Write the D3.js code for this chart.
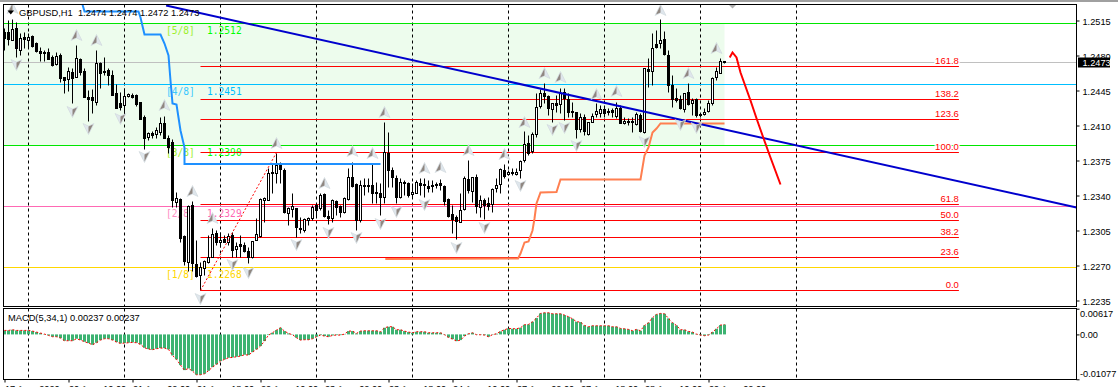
<!DOCTYPE html>
<html><head><meta charset="utf-8">
<script src="https://cdn.jsdelivr.net/npm/d3@7"></script>
<style>
html,body{margin:0;padding:0;background:#fff;overflow:hidden}
svg{display:block}
text{font-family:"Liberation Sans",Arial,sans-serif}
</style></head><body>
<div id="chart"></div>
<script>
const highs=[1.2507,1.2515,1.2516,1.2513,1.2502,1.2503,1.2502,1.2500,1.2493,1.2488,
1.2485,1.2487,1.2480,1.2483,1.2482,1.2458,1.2468,1.2467,1.2490,1.2477,
1.2467,1.2445,1.2446,1.2485,1.2473,1.2478,1.2467,1.2465,1.2451,1.2443,
1.2447,1.2442,1.2442,1.2441,1.2433,1.2420,1.2403,1.2404,1.2408,1.2418,
1.2419,1.2400,1.2396,1.2343,1.2337,1.2300,1.2330,1.2334,1.2295,1.2273,
1.2275,1.2300,1.2307,1.2305,1.2303,1.2300,1.2302,1.2303,1.2293,1.2300,
1.2293,1.2288,1.2294,1.2317,1.2337,1.2338,1.2367,1.2372,1.2382,1.2373,
1.2367,1.2328,1.2342,1.2327,1.2318,1.2317,1.2318,1.2330,1.2332,1.2342,
1.2342,1.2325,1.2336,1.2335,1.2330,1.2338,1.2367,1.2373,1.2352,1.2355,
1.2357,1.2357,1.2372,1.2353,1.2352,1.2413,1.2403,1.2368,1.2360,1.2357,
1.2355,1.2353,1.2352,1.2355,1.2357,1.2357,1.2355,1.2355,1.2353,1.2356,
1.2350,1.2337,1.2330,1.2320,1.2342,1.2359,1.2375,1.2358,1.2361,1.2340,
1.2337,1.2338,1.2347,1.2357,1.2367,1.2371,1.2365,1.2367,1.2367,1.2375,
1.2404,1.2400,1.2403,1.2442,1.2446,1.2452,1.2440,1.2432,1.2440,1.2447,
1.2447,1.2442,1.2433,1.2423,1.2422,1.2421,1.2413,1.2422,1.2432,1.2430,
1.2430,1.2427,1.2427,1.2433,1.2430,1.2418,1.2417,1.2418,1.2423,1.2422,
1.2467,1.2477,1.2502,1.2505,1.2516,1.2504,1.2485,1.2460,1.2447,1.2440,
1.2442,1.2452,1.2437,1.2437,1.2422,1.2427,1.2435,1.2458,1.2468,1.2477,
1.2474];
const lows=[1.2485,1.2490,1.2495,1.2478,1.2480,1.2487,1.2487,1.2488,1.2483,1.2474,
1.2474,1.2476,1.2469,1.2470,1.2453,1.2442,1.2444,1.2432,1.2458,1.2460,
1.2438,1.2414,1.2422,1.2430,1.2447,1.2460,1.2450,1.2440,1.2427,1.2425,
1.2422,1.2438,1.2437,1.2429,1.2416,1.2386,1.2395,1.2397,1.2397,1.2400,
1.2397,1.2382,1.2328,1.2328,1.2293,1.2270,1.2264,1.2264,1.2258,1.2245,
1.2260,1.2272,1.2278,1.2290,1.2288,1.2293,1.2290,1.2278,1.2278,1.2278,
1.2283,1.2272,1.2277,1.2295,1.2298,1.2313,1.2335,1.2342,1.2352,1.2352,
1.2322,1.2310,1.2318,1.2298,1.2302,1.2303,1.2310,1.2315,1.2317,1.2325,
1.2318,1.2311,1.2313,1.2320,1.2318,1.2322,1.2335,1.2348,1.2305,1.2313,
1.2340,1.2343,1.2332,1.2332,1.2320,1.2332,1.2348,1.2348,1.2332,1.2337,
1.2340,1.2338,1.2337,1.2342,1.2340,1.2338,1.2343,1.2343,1.2347,1.2345,
1.2330,1.2318,1.2302,1.2296,1.2313,1.2325,1.2342,1.2333,1.2322,1.2318,
1.2316,1.2325,1.2323,1.2343,1.2342,1.2357,1.2360,1.2360,1.2360,1.2357,
1.2373,1.2380,1.2382,1.2398,1.2427,1.2432,1.2420,1.2413,1.2423,1.2422,
1.2415,1.2418,1.2418,1.2397,1.2403,1.2400,1.2400,1.2413,1.2418,1.2418,
1.2418,1.2420,1.2418,1.2417,1.2412,1.2411,1.2410,1.2403,1.2410,1.2403,
1.2402,1.2448,1.2450,1.2487,1.2487,1.2480,1.2443,1.2428,1.2433,1.2426,
1.2423,1.2430,1.2420,1.2418,1.2418,1.2420,1.2423,1.2430,1.2455,1.2462,
1.2472];
const opens=[1.2503,1.2503,1.2495,1.2507,1.2485,1.2498,1.2495,1.2499,1.2492,1.2484,
1.2483,1.2483,1.2478,1.2471,1.2480,1.2458,1.2456,1.2463,1.2458,1.2476,
1.2464,1.2438,1.2438,1.2433,1.2472,1.2464,1.2465,1.2460,1.2442,1.2432,
1.2430,1.2439,1.2440,1.2440,1.2433,1.2418,1.2398,1.2402,1.2401,1.2403,
1.2412,1.2397,1.2393,1.2333,1.2336,1.2299,1.2273,1.2330,1.2271,1.2260,
1.2267,1.2273,1.2278,1.2302,1.2293,1.2296,1.2293,1.2300,1.2286,1.2291,
1.2290,1.2284,1.2278,1.2295,1.2299,1.2335,1.2335,1.2363,1.2362,1.2371,
1.2365,1.2322,1.2326,1.2327,1.2307,1.2305,1.2315,1.2317,1.2330,1.2327,
1.2341,1.2319,1.2317,1.2334,1.2329,1.2323,1.2336,1.2358,1.2351,1.2315,
1.2350,1.2350,1.2350,1.2343,1.2342,1.2338,1.2382,1.2365,1.2357,1.2338,
1.2352,1.2352,1.2341,1.2342,1.2352,1.2351,1.2349,1.2350,1.2351,1.2352,
1.2349,1.2336,1.2321,1.2318,1.2313,1.2326,1.2356,1.2344,1.2358,1.2328,
1.2335,1.2332,1.2331,1.2347,1.2351,1.2365,1.2361,1.2363,1.2361,1.2365,
1.2375,1.2392,1.2384,1.2401,1.2429,1.2442,1.2439,1.2426,1.2432,1.2431,
1.2443,1.2436,1.2424,1.2423,1.2406,1.2418,1.2401,1.2413,1.2421,1.2422,
1.2426,1.2424,1.2425,1.2419,1.2427,1.2412,1.2414,1.2414,1.2411,1.2420,
1.2403,1.2466,1.2464,1.2491,1.2492,1.2496,1.2480,1.2450,1.2437,1.2436,
1.2426,1.2443,1.2432,1.2436,1.2421,1.2421,1.2424,1.2432,1.2458,1.2462,
1.2474];
const closes=[1.2497,1.2496,1.2506,1.2487,1.2497,1.2496,1.2498,1.2489,1.2484,1.2482,
1.2482,1.2476,1.2470,1.2479,1.2457,1.2455,1.2464,1.2457,1.2477,1.2463,
1.2438,1.2436,1.2435,1.2472,1.2462,1.2463,1.2460,1.2440,1.2427,1.2428,
1.2439,1.2441,1.2438,1.2431,1.2416,1.2397,1.2402,1.2400,1.2405,1.2412,
1.2397,1.2388,1.2335,1.2337,1.2297,1.2274,1.2329,1.2272,1.2259,1.2268,
1.2274,1.2278,1.2301,1.2293,1.2295,1.2293,1.2299,1.2285,1.2289,1.2289,
1.2284,1.2278,1.2294,1.2301,1.2336,1.2337,1.2362,1.2362,1.2370,1.2366,
1.2323,1.2327,1.2329,1.2308,1.2306,1.2316,1.2317,1.2328,1.2325,1.2340,
1.2319,1.2317,1.2335,1.2328,1.2323,1.2337,1.2358,1.2349,1.2315,1.2350,
1.2349,1.2349,1.2342,1.2342,1.2338,1.2383,1.2365,1.2358,1.2338,1.2353,
1.2353,1.2340,1.2343,1.2353,1.2350,1.2350,1.2347,1.2349,1.2350,1.2350,
1.2334,1.2319,1.2316,1.2314,1.2325,1.2357,1.2345,1.2358,1.2329,1.2335,
1.2330,1.2329,1.2346,1.2350,1.2366,1.2359,1.2363,1.2362,1.2363,1.2374,
1.2391,1.2382,1.2401,1.2428,1.2442,1.2439,1.2427,1.2432,1.2430,1.2442,
1.2437,1.2423,1.2423,1.2406,1.2418,1.2404,1.2413,1.2419,1.2424,1.2426,
1.2422,1.2423,1.2423,1.2427,1.2412,1.2414,1.2413,1.2413,1.2421,1.2404,
1.2467,1.2464,1.2487,1.2488,1.2495,1.2481,1.2450,1.2436,1.2435,1.2427,
1.2442,1.2431,1.2435,1.2420,1.2420,1.2423,1.2432,1.2457,1.2464,1.2474,
1.2473];
const macd=[0.00096,0.00096,0.00112,0.00096,0.00096,0.00096,0.00096,0.00080,0.00056,0.00032,
0.00008,-0.00024,-0.00056,-0.00056,-0.00088,-0.00152,-0.00152,-0.00152,-0.00104,-0.00136,
-0.00176,-0.00208,-0.00248,-0.00200,-0.00136,-0.00104,-0.00104,-0.00136,-0.00184,-0.00216,
-0.00208,-0.00200,-0.00192,-0.00200,-0.00240,-0.00320,-0.00352,-0.00368,-0.00344,-0.00328,
-0.00328,-0.00360,-0.00504,-0.00600,-0.00736,-0.00856,-0.00816,-0.00880,-0.00968,-0.00968,
-0.00944,-0.00872,-0.00784,-0.00720,-0.00640,-0.00600,-0.00560,-0.00552,-0.00536,-0.00520,
-0.00488,-0.00496,-0.00424,-0.00360,-0.00280,-0.00160,-0.00016,0.00040,0.00104,0.00160,
0.00080,0.00024,-0.00008,-0.00080,-0.00136,-0.00128,-0.00128,-0.00104,-0.00056,-0.00016,
-0.00040,-0.00056,-0.00024,-0.00016,-0.00016,0.00008,0.00080,0.00080,0.00024,0.00080,
0.00088,0.00088,0.00088,0.00088,0.00064,0.00160,0.00184,0.00184,0.00112,0.00112,
0.00080,0.00056,0.00040,0.00064,0.00064,0.00064,0.00040,0.00040,0.00040,0.00040,
-0.00008,-0.00072,-0.00112,-0.00160,-0.00136,-0.00040,0.00016,0.00040,-0.00008,-0.00008,
-0.00016,-0.00056,-0.00008,0.00016,0.00072,0.00112,0.00144,0.00136,0.00136,0.00160,
0.00232,0.00240,0.00304,0.00392,0.00504,0.00520,0.00520,0.00496,0.00496,0.00496,
0.00464,0.00424,0.00376,0.00304,0.00296,0.00216,0.00184,0.00208,0.00208,0.00208,
0.00208,0.00208,0.00184,0.00184,0.00144,0.00136,0.00120,0.00088,0.00120,0.00088,
0.00216,0.00280,0.00400,0.00480,0.00504,0.00496,0.00384,0.00280,0.00216,0.00112,
0.00112,0.00072,0.00056,0.00008,-0.00016,-0.00032,-0.00016,0.00056,0.00136,0.00224,
0.00237];
const priceTicks=[1.2515,1.2480,1.2445,1.2410,1.2375,1.2340,1.2305,1.2270,1.2235];
const macdTicks=[0.00617,0,-0.01077];
const timeTickIndex=[0,16,32,48,64,80,96,112,128,144,160,176];
const timeTickLabels=["17 Apr 2020","20 Apr 10:00","21 Apr 02:00","21 Apr 18:00","22 Apr 10:00","23 Apr 02:00","23 Apr 18:00","24 Apr 10:00","27 Apr 02:00","27 Apr 18:00","28 Apr 10:00","29 Apr 02:00"];
const daySeparators=[6,30,54,78,102,126,150,174,198];
const murreyPrices=[1.2512,1.2451,1.2390,1.2329,1.2268];
const murreyNames=["[5/8]","[4/8]","[3/8]","[2/8]","[1/8]"];
const murreyColors=["#00e600","#00bfff","#00e600","#ff69b4","#ffd700"];
const murreyNameColors=["#9cf02a","#3cc8ff","#9cf02a","#ff8cc4","#ffd700"];
const murreyValueColors=["#00ff00","#00bfff","#00ff00","#ff69b4","#ffd700"];
const fibLevels=["161.8","138.2","123.6","100.0","61.8","50.0","38.2","23.6","0.0"];
const fibPrices=[1.2469,1.2436,1.2416,1.2383,1.2331,1.2315,1.2298,1.2278,1.2245];
const fibSpan=[49,238.6];
const fibDiagIndex=[49,68], fibDiagPrice=[1.2245,1.2383];
const trendIndex=[40.4,268], trendPrice=[1.2530,1.2328];
const blueTrailIndex=[19.5,20,33.5,34,35,39,40,41,41.5,42,43,44,45,45,94];
const blueTrailPrice=[1.2531,1.2524,1.2524,1.2518,1.2501,1.2501,1.2492,1.2480,1.2455,1.2432,1.2431,1.2405,1.2388,1.23715,1.23715];
const orangeTrailIndex=[95.2,128.4,129,130,131,132,132.5,133,134,138,139,159,160,161,162,163,164,180];
const orangeTrailPrice=[1.22765,1.2277,1.2282,1.2293,1.2294,1.2305,1.2317,1.2332,1.2343,1.23435,1.2356,1.2356,1.2380,1.2388,1.2403,1.2407,1.2412,1.2412];
const arrowIndex=[181.3,182,183,184,186.5,188.1,189.6,191.4,194];
const arrowPrice=[1.2478,1.2483,1.2478,1.2463,1.2435,1.2416,1.2399,1.2379,1.2351];
const upFractalIndex=[2,18,23,40,68,87,92,47,52,80,95,116,125,130,135,139,148,153,171,178,164,105,109];
const upFractalPrice=[1.2527,1.2500,1.2495,1.2430,1.2392,1.2384,1.2382,1.2344,1.2317,1.2352,1.2423,1.2385,1.2381,1.2413,1.2462,1.2458,1.2441,1.2444,1.2462,1.2487,1.2525,1.2367,1.2368];
const downFractalIndex=[3,17,21,29,35,49,57,61,73,81,88,94,98,105,113,120,129,137,140,143,160,169,173];
const downFractalPrice=[1.2471,1.2424,1.2407,1.2417,1.2379,1.2237,1.2271,1.2263,1.2291,1.2303,1.2298,1.2312,1.2324,1.2331,1.2288,1.2308,1.2350,1.2406,1.2408,1.2390,1.2394,1.2411,1.2408];
const topMarkerIndex=182, topMarkerPrice=1.2530;
const bidPrice=1.2473;
const headerText="GBPUSD,H1  1.2474 1.2474 1.2472 1.2473";
const macdLabel="MACD(5,34,1) 0.00237 0.00237";

const W=1118,H=387;
const svg=d3.select("#chart").append("svg").attr("width",W).attr("height",H);
const x=d3.scaleLinear().domain([0,180]).range([4.5,724.5]);
const y=d3.scaleLinear().domain([1.2515,1.2235]).range([20.5,300.5]);
const ym=d3.scaleLinear().domain([0.00617,-0.01077]).range([308.7,379.3]);
const L=3.5,R=1076.5,T=4.5,B=306.5,MT=308.5,MB=379.5;

const defs=svg.append("defs");
defs.append("clipPath").attr("id","cp").append("rect").attr("x",L).attr("y",T).attr("width",R-L).attr("height",B-T);
defs.append("clipPath").attr("id","cm").append("rect").attr("x",L).attr("y",MT).attr("width",R-L).attr("height",MB-MT);

svg.append("rect").attr("width",W).attr("height",2).attr("fill","#a0a0a0");

const g=svg.append("g").attr("clip-path","url(#cp)");
g.append("rect").attr("x",L).attr("y",y(murreyPrices[0])).attr("width",x(180)-L)
 .attr("height",y(murreyPrices[2])-y(murreyPrices[0])).attr("fill","#edfced");
const dash=(sel,a,b)=>sel.selectAll("line.sep").data(daySeparators).join("line").attr("class","sep")
 .attr("x1",d=>x(d)).attr("x2",d=>x(d)).attr("y1",a).attr("y2",b).attr("stroke","#000").attr("stroke-dasharray","3,3");
dash(g,T,B);
g.selectAll("line.mm").data(murreyPrices).join("line").attr("class","mm")
 .attr("x1",L).attr("x2",R).attr("y1",d=>y(d)).attr("y2",d=>y(d))
 .attr("stroke",(d,i)=>murreyColors[i]);
g.append("line").attr("x1",L).attr("x2",R).attr("y1",y(bidPrice)).attr("y2",y(bidPrice)).attr("stroke","#c0c0c0");
const mono='"DejaVu Sans Mono",monospace';
g.selectAll("text.mn").data(murreyPrices).join("text").attr("class","mn")
 .attr("x",166).attr("y",d=>y(d)+10).text((d,i)=>murreyNames[i])
 .attr("fill",(d,i)=>murreyNameColors[i]).style("font-family",mono).style("font-size","9.6px");
g.selectAll("text.mv").data(murreyPrices).join("text").attr("class","mv")
 .attr("x",207).attr("y",d=>y(d)+10).text(d=>d.toFixed(4))
 .attr("fill",(d,i)=>murreyValueColors[i]).style("font-family",mono).style("font-size","9.6px");
g.selectAll("line.fib").data(fibPrices).join("line").attr("class","fib")
 .attr("x1",x(fibSpan[0])).attr("x2",x(fibSpan[1])).attr("y1",d=>y(d)).attr("y2",d=>y(d)).attr("stroke","#ff0000");
g.selectAll("text.fib").data(fibPrices).join("text").attr("class","fib")
 .attr("x",x(fibSpan[1])).attr("y",d=>y(d)-2.5).attr("text-anchor","end").text((d,i)=>fibLevels[i])
 .attr("fill","#ff0000").style("font-size","9.5px").style("paint-order","stroke").attr("stroke","#fff").attr("stroke-width",2.5);
const candles=d3.range(opens.length).map(i=>({i,o:opens[i],h:highs[i],l:lows[i],c:closes[i]}));
const cg=g.selectAll("g.c").data(candles).join("g").attr("class","c");
cg.append("line").attr("x1",d=>x(d.i)).attr("x2",d=>x(d.i)).attr("y1",d=>y(d.h)).attr("y2",d=>y(d.l)).attr("stroke","#000");
cg.append("rect").attr("x",d=>x(d.i)-1).attr("width",2)
 .attr("y",d=>y(Math.max(d.o,d.c))).attr("height",d=>Math.abs(y(d.o)-y(d.c)))
 .attr("fill",d=>d.c>=d.o?"#fff":"#000").attr("stroke","#000");
const ln=(idx,pr)=>d3.line().x(i=>x(idx[i])).y(i=>y(pr[i]))(d3.range(idx.length));
g.append("path").attr("d",ln(fibDiagIndex,fibDiagPrice)).attr("fill","none").attr("stroke","#ff0000").attr("stroke-dasharray","2,2");
g.append("path").attr("d",ln(blueTrailIndex,blueTrailPrice)).attr("fill","none").attr("stroke","#1e90ff").attr("stroke-width",2);
g.append("path").attr("d",ln(orangeTrailIndex,orangeTrailPrice)).attr("fill","none").attr("stroke","#ff7f50").attr("stroke-width",2);
g.append("path").attr("d",ln(trendIndex,trendPrice)).attr("fill","none").attr("stroke","#0000cd").attr("stroke-width",2);
g.append("path").attr("d",ln(arrowIndex,arrowPrice)).attr("fill","none").attr("stroke","#ff0000").attr("stroke-width",2);
function arrow(sel,rot){
 sel.attr("transform",d=>`translate(${d.x},${d.y}) rotate(${rot})`);
 sel.append("path").attr("d","M0,-6L5.5,5L0,2.5L-5.5,5Z").attr("fill","#dfe6ec").attr("stroke","#cfd6dc").attr("stroke-width",0.6);
 sel.append("path").attr("d","M0,-5L-4.5,4L0,2Z").attr("fill","#8f8680");
}
const ups=upFractalIndex.map((d,i)=>({x:x(d),y:y(upFractalPrice[i])}));
const downs=downFractalIndex.map((d,i)=>({x:x(d),y:y(downFractalPrice[i])}));
g.selectAll("g.u").data(ups).join("g").attr("class","u").call(arrow,0);
g.selectAll("g.d").data(downs).join("g").attr("class","d").call(arrow,180);
g.append("path").attr("d",`M${x(topMarkerIndex)-5},${y(topMarkerPrice)-2}h10l-5,5z`).attr("fill","#b0b0b0");
g.append("path").attr("d","M7.5,10.5h6.5l-3.25,4z").attr("fill","#000");
g.append("text").attr("x",19).attr("y",16).text(headerText).attr("fill","#000").style("font-size","9.3px").style("white-space","pre");

const m=svg.append("g").attr("clip-path","url(#cm)");
dash(m,MT,MB);
m.selectAll("rect.h").data(macd).join("rect").attr("class","h")
 .attr("x",(d,i)=>x(i)-1.5).attr("width",3)
 .attr("y",d=>Math.min(ym(d),ym(0))).attr("height",d=>Math.abs(ym(d)-ym(0))).attr("fill","#3cb371");
m.append("path").attr("d",d3.line().x((d,i)=>x(i)).y(d=>ym(d))(macd)).attr("fill","none").attr("stroke","#ff0000").attr("stroke-dasharray","2,2");
m.append("text").attr("x",8).attr("y",321).text(macdLabel).attr("fill","#000").style("font-size","9.3px");

for(const [a,b] of [[T,B],[MT,MB]])
 svg.append("rect").attr("x",L).attr("y",a).attr("width",R-L).attr("height",b-a).attr("fill","none").attr("stroke","#000");

const priceAxis=d3.axisRight(y).tickValues(priceTicks).tickSize(3).tickFormat(d3.format(".4f"));
const pa=svg.append("g").attr("transform",`translate(${R},0)`).call(priceAxis);
const macdAxis=d3.axisRight(ym).tickValues(macdTicks).tickSize(3).tickFormat(d=>d===0?"0.00":d.toFixed(5));
const ma=svg.append("g").attr("transform",`translate(${R},0)`).call(macdAxis);
const timeAxis=d3.axisBottom(x).tickValues(timeTickIndex).tickSize(3).tickFormat((d,i)=>timeTickLabels[i].replace(" 2020","   2020").replace(/ (\d\d:\d\d)/,"   $1"));
const ta=svg.append("g").attr("transform",`translate(0,${MB})`).call(timeAxis);
for(const a of [pa,ma,ta]){ a.select(".domain").remove(); a.selectAll("line").attr("stroke","#000");
 a.selectAll("text").attr("fill","#000").style("font-size","9.2px").style("font-family",'"Liberation Sans",Arial,sans-serif'); }
pa.selectAll("text").attr("x",6).attr("dy","0.47em");
ma.selectAll("text").attr("x",3.5);
ma.selectAll("g.tick").filter(d=>d===0.00617).select("text").attr("dy","0.9em");
ma.selectAll("g.tick").filter(d=>d===-0.01077).select("text").attr("dy","-0.3em");
ta.selectAll("text").attr("text-anchor","start").attr("y",12.5).attr("dy",0).style("white-space","pre").attr("x",0);
svg.append("rect").attr("x",1078).attr("y",y(bidPrice)-5).attr("width",32).attr("height",10).attr("fill","#000");
svg.append("text").attr("x",1082.5).attr("y",y(bidPrice)+3.5).text(bidPrice.toFixed(4)).attr("fill","#fff").style("font-size","9.2px");
</script></body></html>
